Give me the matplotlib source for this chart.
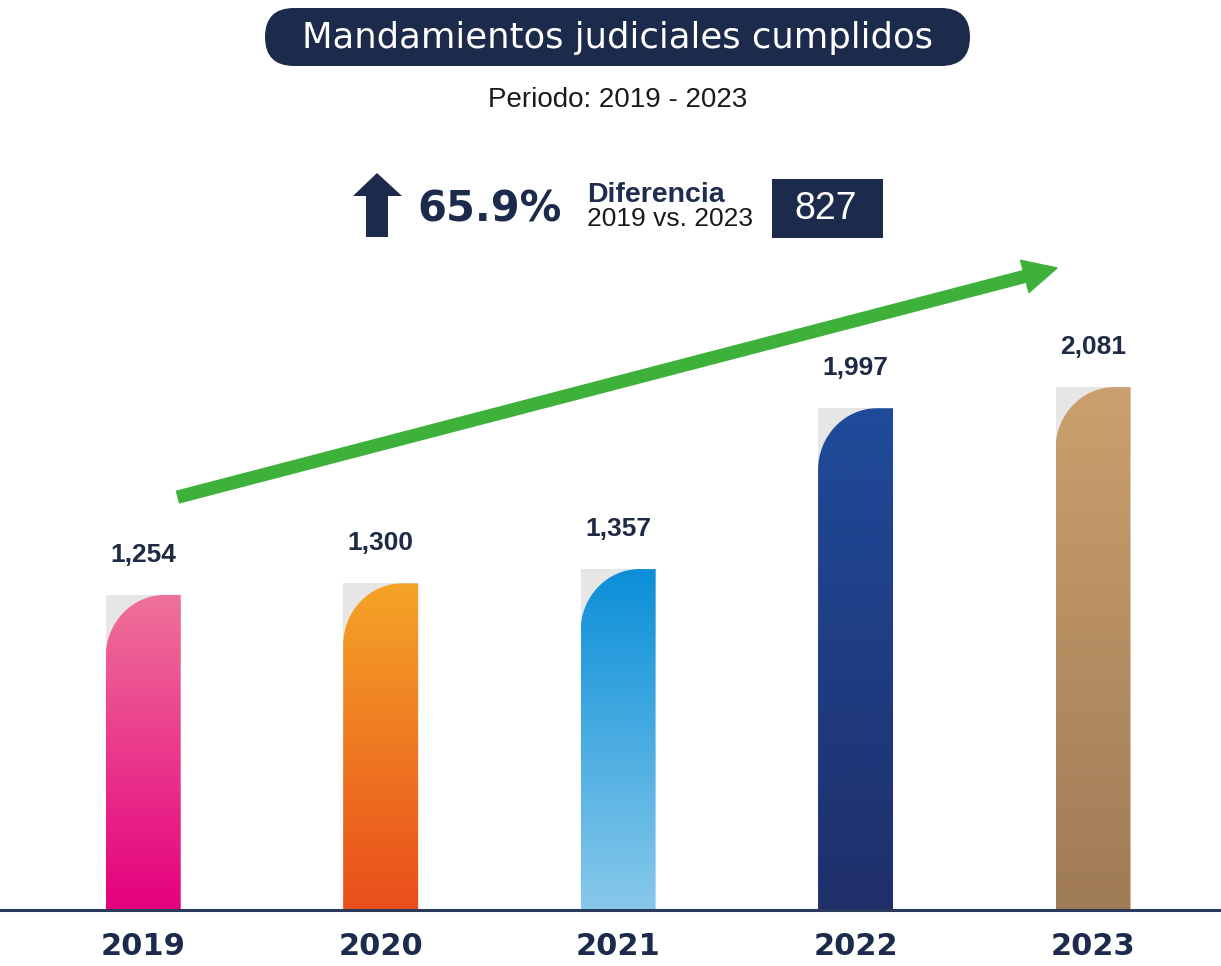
import numpy as np
import matplotlib
matplotlib.use("Agg")
import matplotlib.pyplot as plt
from matplotlib.colors import LinearSegmentedColormap
from matplotlib.patches import FancyBboxPatch, Rectangle, Polygon, FancyArrowPatch, PathPatch
from matplotlib.path import Path

# data
years = ["2019", "2020", "2021", "2022", "2023"]
values = [1254, 1300, 1357, 1997, 2081]
top_colors = ["#ef7299", "#f5a428", "#0b8fd8", "#1f4b9b", "#cba06e"]
bottom_colors = ["#e5007e", "#e94e1b", "#88c9eb", "#1f2f6a", "#9f7b56"]
pct_change = "65.9%"
diff_value = "827"

NAVY = "#1c2b4b"
W, H = 1221, 966
BASE_PX = 910          # pixel row of the baseline
X0_PX, STEP_PX = 143.2, 237.45
Y_PER_PX = 3.98

fig = plt.figure(figsize=(W / 100, H / 100), dpi=100)
fig.patch.set_facecolor("white")

ax = fig.add_axes([0, (H - BASE_PX) / H, 1, BASE_PX / H])
xmin = -X0_PX / STEP_PX
xmax = (W - X0_PX) / STEP_PX
ymax = BASE_PX * Y_PER_PX
px_x = 1 / STEP_PX      # data x per pixel
px_y = Y_PER_PX         # data y per pixel

bar_w = 75 * px_x
rx, ry = 59 * px_x, 62 * px_y
gray_h = 67 * px_y
x = np.arange(len(years))

# light gray squares behind the rounded corners
ax.bar(x, [gray_h] * len(x), bottom=np.array(values) - gray_h, width=bar_w,
       color="#e6e6e6", zorder=1, linewidth=0)

k = 0.5523
for i, v in enumerate(values):
    l, r = x[i] - bar_w / 2, x[i] + bar_w / 2
    verts = [(l, 0), (l, v - ry),
             (l, v - ry + k * ry), (l + rx - k * rx, v), (l + rx, v),
             (r, v), (r, 0), (l, 0)]
    codes = [Path.MOVETO, Path.LINETO, Path.CURVE4, Path.CURVE4, Path.CURVE4,
             Path.LINETO, Path.LINETO, Path.CLOSEPOLY]
    patch = PathPatch(Path(verts, codes), facecolor="none", edgecolor="none")
    ax.add_patch(patch)
    cmap = LinearSegmentedColormap.from_list("g%d" % i, [top_colors[i], bottom_colors[i]])
    grad = np.linspace(0, 1, 256)[:, None]
    im = ax.imshow(grad, cmap=cmap, extent=[l, r, 0, v], aspect="auto",
                   origin="upper", zorder=2, interpolation="bilinear")
    im.set_clip_path(patch)
    ax.annotate(f"{v:,}", (x[i], v), xytext=(0, 29), textcoords="offset points",
                ha="center", va="center", fontsize=19, fontweight="bold",
                family="Liberation Sans", color="#1f2a44")

ax.set_xlim(xmin, xmax)
ax.set_ylim(0, ymax)
ax.set_xticks(x)
ax.set_xticklabels(years, fontsize=22, fontweight="bold", family="DejaVu Sans", color=NAVY)
ax.tick_params(axis="x", length=0, pad=16)
ax.set_yticks([])
for s in ["top", "left", "right"]:
    ax.spines[s].set_visible(False)
ax.spines["bottom"].set_color("#2b3a5a")
ax.spines["bottom"].set_linewidth(2.2)
ax.spines["bottom"].set_zorder(5)
ax.patch.set_alpha(0)

# overlay in pixel coordinates for the header decorations
ov = fig.add_axes([0, 0, 1, 1])
ov.set_xlim(0, W)
ov.set_ylim(H, 0)
ov.axis("off")
ov.patch.set_alpha(0)

ov.add_patch(FancyBboxPatch((265, 8), 705, 58, boxstyle="round,pad=0,rounding_size=29",
                            facecolor=NAVY, edgecolor="none"))
ov.text(617, 38, "Mandamientos judiciales cumplidos", ha="center", va="center",
        color="white", fontsize=25.5, family="DejaVu Sans")
ov.text(618, 100, "Periodo: 2019 - 2023", ha="center", va="center",
        color="#1a1a1a", fontsize=20, family="Liberation Sans")

# up arrow
ov.add_patch(Polygon([(366, 237), (366, 196), (353, 196), (377, 173), (402, 196),
                      (388, 196), (388, 237)], closed=True, facecolor=NAVY, edgecolor="none"))
ov.text(417, 209, pct_change, ha="left", va="center", fontsize=30, fontweight="bold",
        family="DejaVu Sans", color=NAVY)
ov.text(587, 195, "Diferencia", ha="left", va="center", fontsize=20.5, fontweight="bold",
        family="Liberation Sans", color="#1f2d50")
ov.text(587, 219, "2019 vs. 2023", ha="left", va="center", fontsize=19,
        family="Liberation Sans", color="#1a1a1a")
ov.add_patch(Rectangle((772, 179), 111, 59, facecolor=NAVY, edgecolor="none"))
ov.text(826, 209, diff_value, ha="center", va="center", fontsize=27,
        family="Liberation Sans", color="white")

# green trend arrow
ov.add_patch(FancyArrowPatch((178, 497), (1057, 268),
                             arrowstyle="simple,tail_width=0.43,head_width=1.2,head_length=1.2",
                             mutation_scale=20, color="#3db13a", shrinkA=0, shrinkB=0))

fig.savefig("out.png", dpi=100)
